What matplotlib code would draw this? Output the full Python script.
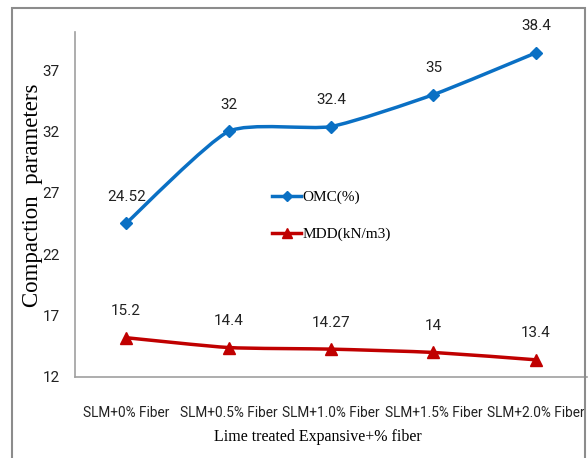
import matplotlib
matplotlib.use("Agg")
import matplotlib.pyplot as plt
import numpy as np
from matplotlib.path import Path
from matplotlib.patches import PathPatch, Rectangle
from matplotlib.lines import Line2D

categories = ['SLM+0% Fiber', 'SLM+0.5% Fiber', 'SLM+1.0% Fiber', 'SLM+1.5% Fiber', 'SLM+2.0% Fiber']
omc = [24.52, 32, 32.4, 35, 38.4]
mdd = [15.2, 14.4, 14.27, 14, 13.4]
omc_labels = ['24.52', '32', '32.4', '35', '38.4']
mdd_labels = ['15.2', '14.4', '14.27', '14', '13.4']
yticks = [12, 17, 22, 27, 32, 37]

BLUE = '#0A70C4'
RED = '#C00000'
NARROW = ['Roboto', 'DejaVu Sans']
SERIF = ['Liberation Serif', 'DejaVu Serif']


def smooth_path(xs, ys, t=0.1):
  # bezier through the points, like Excel's "smoothed line"
  pts = np.column_stack([np.asarray(xs, float), np.asarray(ys, float)])
  verts = [pts[0]]
  codes = [Path.MOVETO]
  n = len(pts)
  for i in range(n - 1):
    p0 = pts[i - 1] if i > 0 else pts[i]
    p1 = pts[i]
    p2 = pts[i + 1]
    p3 = pts[i + 2] if i + 2 < n else pts[i + 1]
    verts += [p1 + (p2 - p0) * t, p2 - (p3 - p1) * t, p2]
    codes += [Path.CURVE4] * 3
  return Path(verts, codes)


fig = plt.figure(figsize=(5.88, 4.58), dpi=100)
fig.patches.append(Rectangle((12 / 588, -0.05), 573 / 588, 1 - 8 / 458 + 0.05,
                             transform=fig.transFigure, fill=False,
                             edgecolor='#8c8c8c', linewidth=1.5))
ax = fig.add_axes([75 / 588, 1 - 377 / 458, 512 / 588, 345 / 458])

x = np.arange(len(categories))
for vals, labels, color, marker, ms in [(omc, omc_labels, BLUE, 'D', 6),
                                        (mdd, mdd_labels, RED, '^', 8)]:
  ax.add_patch(PathPatch(smooth_path(x, vals), fill=False, edgecolor=color, linewidth=2.5))
  ax.plot(x, vals, linestyle='none', marker=marker, markersize=ms, color=color)
  for xi, v, lab in zip(x, vals, labels):
    ax.annotate(lab, (xi, v), xytext=(0, 19), textcoords='offset points',
                ha='center', va='center', fontsize=11, family=NARROW, color='#222222')

ax.set_xlim(-0.5, len(categories) - 0.5)
ax.set_ylim(12, 40.1)
ax.set_yticks(yticks)
ax.set_xticks(x)
ax.set_xticklabels(categories, family=NARROW, fontsize=9.8)
for lab in ax.get_yticklabels():
  lab.set_family(NARROW)
  lab.set_fontsize(11)
ax.tick_params(length=0, pad=11, colors='#222222')
ax.tick_params(axis='x', pad=21)

for s in ['top', 'right']:
  ax.spines[s].set_visible(False)
for s in ['left', 'bottom']:
  ax.spines[s].set_color('#a0a0a0')
  ax.spines[s].set_linewidth(1.2)

ax.set_ylabel('Compaction  parameters', family=SERIF, fontsize=16.5)
ax.yaxis.set_label_coords(-0.063, 0.528)
ax.set_xlabel('Lime treated Expansive+% fiber', family=SERIF, fontsize=11.5)
ax.xaxis.set_label_coords(0.4746, -0.152)

handles = [Line2D([], [], color=BLUE, marker='D', markersize=5, linewidth=2.5),
           Line2D([], [], color=RED, marker='^', markersize=7, linewidth=2.5)]
leg = ax.legend(handles, ['OMC(%)', 'MDD(kN/m3)'], loc='center left',
                bbox_to_anchor=(0.358, 0.467), frameon=False, handlelength=1.9,
                handletextpad=0.1, labelspacing=1.5, prop={'family': SERIF, 'size': 11})

fig.savefig('out.png', dpi=100)
